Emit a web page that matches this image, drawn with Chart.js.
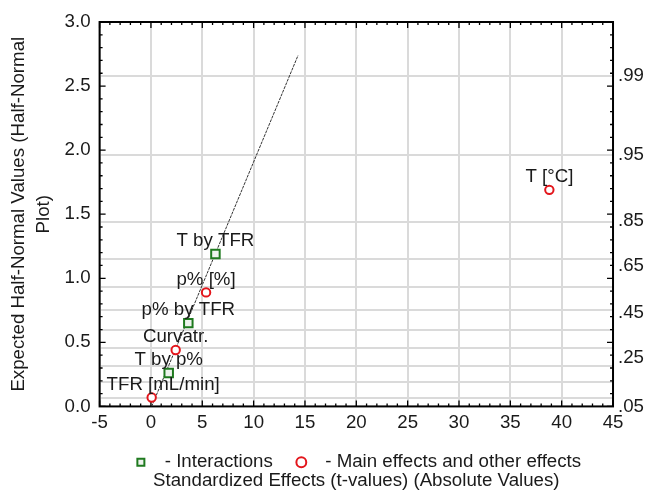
<!DOCTYPE html>
<html>
<head>
<meta charset="utf-8">
<script src="https://cdn.jsdelivr.net/npm/chart.js@4.4.1/dist/chart.umd.min.js"></script>
<style>
  html, body { margin: 0; padding: 0; background: #fff; }
  #grafico { display: block; }
</style>
</head>
<body>
<canvas id="grafico" width="647" height="492"></canvas>
<script>
// pontos (meio-normal)
const interacoes_nomes = ['T by TFR', 'p% by TFR', 'T by p%'];
const interacoes_x = [6.28, 3.64, 1.73];
const interacoes_y = [1.19, 0.65, 0.26];

const principais_nomes = ['T [°C]', 'p% [%]', 'Curvatr.', 'TFR [mL/min]'];
const principais_x = [38.8, 5.37, 2.41, 0.07];
const principais_y = [1.69, 0.89, 0.44, 0.07];

// reta de referencia
const reta_x = [0.07, 14.33];
const reta_y = [0.0, 2.74];

// eixo da direita (probabilidades)
const prob_grade = [2.576, 1.960, 1.440, 1.150, 0.935, 0.755, 0.598, 0.454, 0.319, 0.189, 0.063];
const prob_rotulos = ['.99', '.95', '.85', '.65', '.45', '.25', '.05'];
const prob_posicoes = [2.58, 1.96, 1.45, 1.10, 0.73, 0.38, 0.0];

const fonte = "'Liberation Sans', Arial, sans-serif";
const tam = 18.7;
const corTexto = '#1a1a1a';
const corGrade = '#dadada';

Chart.defaults.font.family = fonte;
Chart.defaults.font.size = tam;
Chart.defaults.color = corTexto;

const pontos = (xs, ys) => xs.map((x, i) => ({ x: x, y: ys[i] }));

// moldura preta com marcas para dentro
const moldura = {
  id: 'moldura',
  beforeDatasetsDraw(chart) {
    const { ctx, chartArea: a, scales: { x, y } } = chart;
    ctx.save();
    ctx.strokeStyle = '#000';
    ctx.lineWidth = 1.3;
    ctx.beginPath();
    for (let v = -5; v <= 45; v++) {
      const px = x.getPixelForValue(v);
      const len = v % 5 === 0 ? 6 : 3;
      ctx.moveTo(px, a.bottom); ctx.lineTo(px, a.bottom - len);
      ctx.moveTo(px, a.top); ctx.lineTo(px, a.top + len);
    }
    for (let k = 0; k <= 30; k++) {
      const py = y.getPixelForValue(k / 10);
      const len = k % 5 === 0 ? 6 : 3;
      ctx.moveTo(a.left, py); ctx.lineTo(a.left + len, py);
      ctx.moveTo(a.right, py); ctx.lineTo(a.right - len, py);
    }
    ctx.stroke();
    ctx.lineWidth = 2;
    ctx.strokeRect(a.left, a.top, a.right - a.left, a.bottom - a.top);
    ctx.restore();
  }
};

// nomes dos efeitos acima dos pontos
const rotulos = {
  id: 'rotulos',
  afterDatasetsDraw(chart) {
    const { ctx, chartArea: a, scales: { x, y } } = chart;
    ctx.save();
    ctx.font = tam + 'px ' + fonte;
    ctx.fillStyle = corTexto;
    ctx.textAlign = 'left';
    ctx.textBaseline = 'middle';
    const escrever = (nomes, xs, ys) => nomes.forEach((nome, i) => {
      const w = ctx.measureText(nome).width;
      let px = x.getPixelForValue(xs[i]) - w / 2;
      px = Math.max(px, a.left + 7);
      ctx.fillText(nome, px, y.getPixelForValue(ys[i]) - 13);
    });
    escrever(interacoes_nomes, interacoes_x, interacoes_y);
    escrever(principais_nomes, principais_x, principais_y);
    ctx.restore();
  }
};

new Chart(document.getElementById('grafico'), {
  type: 'scatter',
  data: {
    datasets: [
      {
        label: ' - Interactions ',
        data: pontos(interacoes_x, interacoes_y),
        pointStyle: 'rect',
        pointRadius: 6,
        borderColor: '#1f7a1f',
        backgroundColor: '#eef3ee',
        borderWidth: 2,
        order: 1
      },
      {
        label: ' - Main effects and other effects',
        data: pontos(principais_x, principais_y),
        pointStyle: 'circle',
        pointRadius: 4.2,
        borderColor: '#e3161c',
        backgroundColor: '#ffffff',
        borderWidth: 2,
        order: 1
      },
      {
        type: 'line',
        label: 'reta',
        data: pontos(reta_x, reta_y),
        showLine: true,
        pointRadius: 0,
        borderColor: '#333',
        borderWidth: 1,
        borderDash: [3, 1],
        order: 3
      }
    ]
  },
  options: {
    responsive: false,
    animation: false,
    events: [],
    layout: { padding: { top: 22, left: 7, right: -2, bottom: 0 } },
    scales: {
      x: {
        type: 'linear', min: -5, max: 45,
        ticks: { stepSize: 5, padding: 5 },
        grid: { color: corGrade, lineWidth: 2, drawTicks: false },
        border: { display: false }
      },
      y: {
        position: 'left', min: 0, max: 3,
        ticks: { stepSize: 0.5, padding: 9, callback: v => v.toFixed(1) },
        grid: { display: false, drawTicks: false },
        border: { display: false },
        title: {
          display: true,
          text: ['Expected Half-Normal Values (Half-Normal', 'Plot)'],
          font: { size: tam, lineHeight: 1.3 },
          padding: { top: 0, bottom: 0 }
        }
      },
      yG: {
        position: 'right', min: 0, max: 3,
        afterBuildTicks: eixo => { eixo.ticks = prob_grade.map(v => ({ value: v })); },
        ticks: { display: false },
        grid: { color: corGrade, lineWidth: 2, drawTicks: false },
        border: { display: false }
      },
      yP: {
        position: 'right', min: 0, max: 3,
        afterBuildTicks: eixo => { eixo.ticks = prob_posicoes.map(v => ({ value: v })); },
        ticks: { padding: 5, autoSkip: false, callback: (v, i) => prob_rotulos[i] },
        grid: { display: false, drawTicks: false },
        border: { display: false }
      }
    },
    plugins: {
      tooltip: { enabled: false },
      legend: {
        position: 'bottom',
        fullSize: false,
        labels: {
          usePointStyle: true,
          boxHeight: 7,
          padding: 14,
          filter: item => item.datasetIndex < 2
        }
      },
      title: {
        display: true,
        position: 'bottom',
        fullSize: false,
        text: 'Standardized Effects (t-values) (Absolute Values)',
        font: { size: tam, weight: 'normal' },
        padding: { top: -12, bottom: 0 }
      }
    }
  },
  plugins: [moldura, rotulos]
});
</script>
</body>
</html>
